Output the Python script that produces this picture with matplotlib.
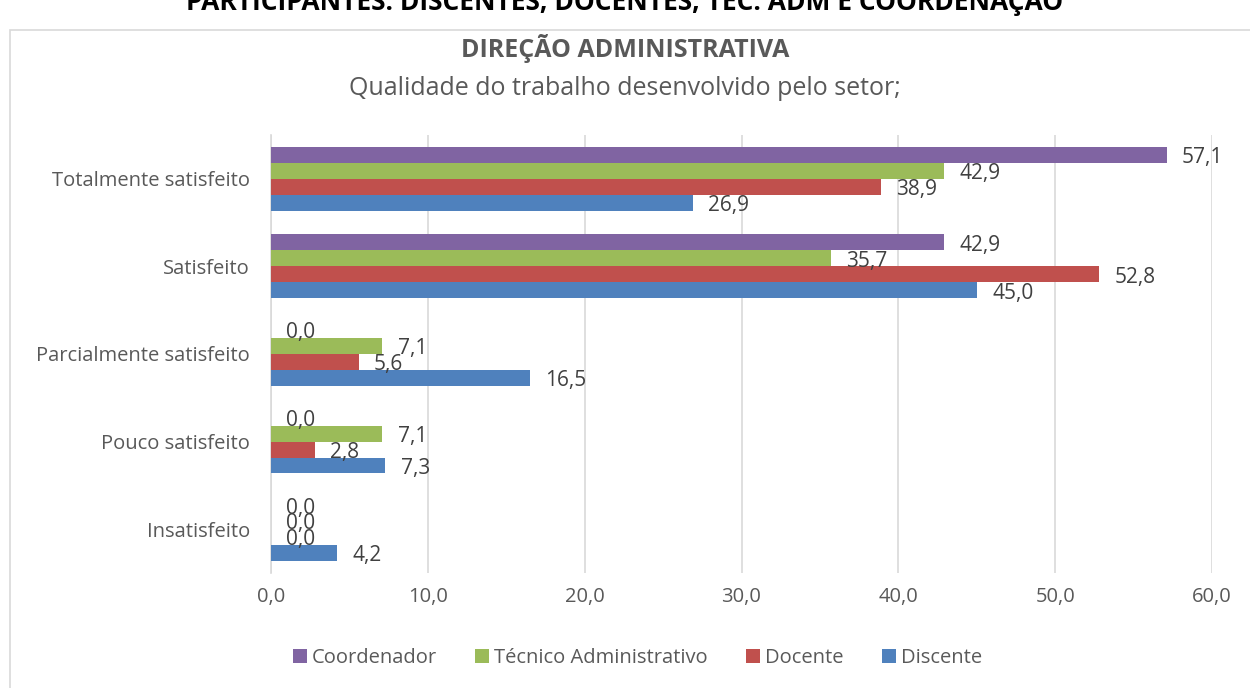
import numpy as np
import matplotlib.pyplot as plt
from matplotlib.patches import Rectangle

plt.rcParams['font.family'] = ['Open Sans', 'DejaVu Sans']

# Data
categorias = ["Insatisfeito", "Pouco satisfeito", "Parcialmente satisfeito",
              "Satisfeito", "Totalmente satisfeito"]
discente = [4.2, 7.3, 16.5, 45.0, 26.9]
docente = [0.0, 2.8, 5.6, 52.8, 38.9]
tecnico = [0.0, 7.1, 7.1, 35.7, 42.9]
coordenador = [0.0, 0.0, 0.0, 42.9, 57.1]

series = [
    ("Discente", discente, "#4F81BD"),
    ("Docente", docente, "#C0504D"),
    ("Técnico Administrativo", tecnico, "#9BBB59"),
    ("Coordenador", coordenador, "#8064A2"),
]

fig = plt.figure(figsize=(12.5, 6.88), dpi=100)
ax = fig.add_axes([0.2168, 0.1672, 0.7528, 0.6366])

# chart border
fig.patches.append(Rectangle((0.008, -0.05), 1.1, 1.0 - 30 / 688 + 0.05,
                             transform=fig.transFigure, fill=False,
                             edgecolor="#d9d9d9", linewidth=1.2))

y = np.arange(len(categorias))
h = 0.182
for i, (nome, vals, cor) in enumerate(series):
    pos = y + (i - 1.5) * h
    ax.barh(pos, vals, height=h, color=cor, label=nome, zorder=3)
    for p, v in zip(pos, vals):
        ax.annotate(f"{v:.1f}".replace(".", ","), (v, p), xytext=(11, -2),
                    textcoords="offset points", va="center", ha="left",
                    fontsize=15, color="#404040", zorder=4)

ax.set_xlim(0, 60)
ax.set_ylim(-0.5, 4.5)
ax.set_xticks(np.arange(0, 61, 10))
ax.set_xticklabels([f"{t:.1f}".replace(".", ",") for t in np.arange(0, 61, 10)])
ax.set_yticks(y)
ax.set_yticklabels(categorias)
ax.tick_params(axis="both", length=0, labelsize=14.5, colors="#595959")
ax.tick_params(axis="x", pad=10)
ax.tick_params(axis="y", pad=15)
ax.grid(axis="x", color="#d9d9d9", linewidth=1.2, zorder=0)
for s in ["top", "right", "bottom"]:
    ax.spines[s].set_visible(False)
ax.spines["left"].set_color("#d9d9d9")
ax.spines["left"].set_linewidth(1.2)

fig.text(0.5, 0.93, "DIREÇÃO ADMINISTRATIVA", ha="center", va="center",
         fontsize=18, fontweight="bold", color="#595959")
fig.text(0.5, 0.872, "Qualidade do trabalho desenvolvido pelo setor;", ha="center",
         va="center", fontsize=18, color="#595959")
fig.text(0.5, 1.0, "PARTICIPANTES: DISCENTES, DOCENTES, TEC. ADM E COORDENAÇÃO",
         ha="center", va="center", fontsize=19, fontweight="bold", color="black")

handles, labels = ax.get_legend_handles_labels()
fig.legend(handles[::-1], labels[::-1], loc="center", bbox_to_anchor=(0.51, 0.043),
           ncol=4, frameon=False, fontsize=14.5, labelcolor="#595959",
           handlelength=0.7, handleheight=0.7, handletextpad=0.25, columnspacing=1.9)

fig.savefig("out.png", dpi=100)
